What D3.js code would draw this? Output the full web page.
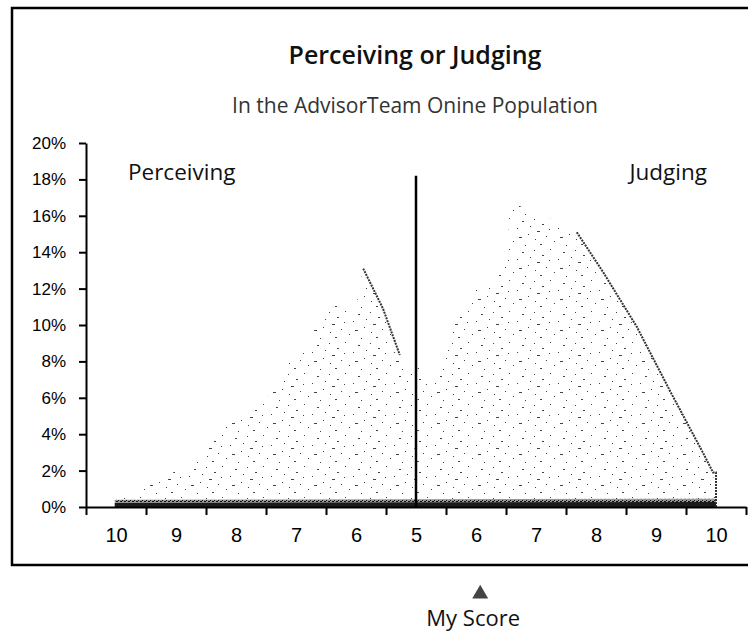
<!DOCTYPE html>
<html>
<head>
<meta charset="utf-8">
<title>Perceiving or Judging</title>
<script src="https://cdn.jsdelivr.net/npm/d3@7"></script>
<style>
  body { margin: 0; background: #fff; }
  svg { display: block; }
</style>
</head>
<body>
<div id="container"></div>
<script>

// x axis runs from Perceiving 10 through 5 to Judging 10 (positions 0..10)
const scoreLabels = ["10", "9", "8", "7", "6", "5", "6", "7", "8", "9", "10"];
const yTicks = [0, 2, 4, 6, 8, 10, 12, 14, 16, 18, 20];

// outline of the Perceiving cloud (position, percent)
const perceivingPos = [-0.02, 0.23, 0.73, 1.4, 1.73, 2.18, 2.52, 2.78, 3.18, 3.4, 3.62, 4.0, 4.12, 4.45, 4.73, 4.95, 5.0];
const perceivingPct = [0.4, 0.6, 1.5, 2.7, 4.4, 5.2, 6.0, 7.6, 8.8, 10.7, 11.2, 11.0, 13.1, 10.9, 8.35, 7.5, 0];

// outline of the Judging cloud
const judgingPos = [5.0, 5.03, 5.3, 5.52, 5.77, 6.02, 6.3, 6.52, 6.57, 6.75, 6.98, 7.3, 7.68, 8.12, 8.68, 9.23, 9.78, 9.95, 10.0];
const judgingPct = [0, 7.7, 6.8, 9.3, 11.0, 12.0, 12.2, 13.6, 17.0, 16.5, 16.0, 15.8, 15.1, 12.9, 9.9, 6.4, 3.0, 1.9, 0];

// darker dotted edges on the right side of each cloud
const perceivingEdgePos = [4.12, 4.45, 4.73];
const perceivingEdgePct = [13.1, 10.9, 8.35];
const judgingEdgePos = [7.68, 8.12, 8.68, 9.23, 9.78, 9.95, 10.0, 10.0];
const judgingEdgePct = [15.1, 12.9, 9.9, 6.4, 3.0, 1.9, 1.9, 0];

// dense strip along the baseline
const bandPos = [-0.02, 10.0];
const bandPct = [0.4, 0.45];
const bandCorePct = [0.22, 0.28];

const dividerPos = 5, dividerTop = 18.2;
const myScorePos = 6.07;

const width = 748,
      height = 633,
      margin = { top: 143, bottom: 126, left: 86, right: 2 };

const svg = d3.select("#container")
  .append("svg")
  .attr("width", width)
  .attr("height", height);

const x = d3.scaleLinear()
  .domain([-0.5, 10.5])
  .range([margin.left, width - margin.right]);

const y = d3.scaleLinear()
  .domain([0, 20])
  .range([height - margin.bottom, margin.top]);

// patterns for the scanned stipple look
const defs = svg.append("defs");
const stipple = defs.append("pattern")
  .attr("id", "stipple")
  .attr("width", 41).attr("height", 31)
  .attr("patternUnits", "userSpaceOnUse");
[[1, 2, 1], [9, 7, 2], [17, 1, 1], [25, 11, 1], [4, 14, 3], [13, 19, 1], [30, 4, 2], [36, 17, 1],
 [21, 24, 1], [7, 27, 2], [33, 28, 1], [27, 20, 3], [16, 12, 1], [38, 9, 1], [2, 22, 1]].forEach(function(d) {
  stipple.append("rect").attr("x", d[0]).attr("y", d[1]).attr("width", d[2]).attr("height", 1).attr("fill", "#444");
});
const dense = defs.append("pattern")
  .attr("id", "dense")
  .attr("width", 4).attr("height", 3)
  .attr("patternUnits", "userSpaceOnUse");
dense.append("rect").attr("width", 4).attr("height", 3).attr("fill", "#999");
dense.append("rect").attr("x", 0).attr("y", 0).attr("width", 2).attr("height", 1).attr("fill", "#111");
dense.append("rect").attr("x", 2).attr("y", 2).attr("width", 1).attr("height", 1).attr("fill", "#111");

// frame
svg.append("rect")
  .attr("x", 12).attr("y", 8)
  .attr("width", 760).attr("height", 557)
  .attr("fill", "none")
  .attr("stroke", "#000")
  .attr("stroke-width", 2.5);

// titles
svg.append("text")
  .attr("x", 415).attr("y", 64)
  .attr("text-anchor", "middle")
  .style("font-family", "'Open Sans', Lato, sans-serif")
  .style("font-weight", "600")
  .style("font-size", "25px")
  .style("fill", "#111")
  .text("Perceiving or Judging");

svg.append("text")
  .attr("x", 415).attr("y", 113)
  .attr("text-anchor", "middle")
  .style("font-family", "'Open Sans', Lato, sans-serif")
  .style("font-size", "21px")
  .style("fill", "#333")
  .text("In the AdvisorTeam Onine Population");

function series(pos, pct) {
  return pos.map(function(p, i) { return { p: p, v: pct[i] }; });
}

const area = d3.area()
  .x(function(d) { return x(d.p); })
  .y0(y(0))
  .y1(function(d) { return y(d.v); });

const line = d3.line()
  .x(function(d) { return x(d.p); })
  .y(function(d) { return y(d.v); });

[series(perceivingPos, perceivingPct), series(judgingPos, judgingPct)].forEach(function(s) {
  svg.append("path")
    .datum(s)
    .attr("d", area)
    .attr("fill", "url(#stipple)");
});

svg.append("path")
  .datum(series(bandPos, bandPct))
  .attr("d", area)
  .attr("fill", "url(#dense)");

svg.append("path")
  .datum(series(bandPos, bandCorePct))
  .attr("d", area)
  .attr("fill", "#1a1a1a");

[series(perceivingEdgePos, perceivingEdgePct), series(judgingEdgePos, judgingEdgePct)].forEach(function(s) {
  svg.append("path")
    .datum(s)
    .attr("d", line)
    .attr("fill", "none")
    .attr("stroke", "#333")
    .attr("stroke-width", 2)
    .attr("stroke-dasharray", "2,1");
});

// divider at 5
svg.append("line")
  .attr("x1", x(dividerPos)).attr("x2", x(dividerPos))
  .attr("y1", y(0)).attr("y2", y(dividerTop))
  .attr("stroke", "#000")
  .attr("stroke-width", 2.5);

// y axis
const yAxis = svg.append("g")
  .attr("transform", `translate(${margin.left}, 0)`)
  .call(d3.axisLeft(y).tickValues(yTicks).tickSize(7).tickSizeOuter(0).tickPadding(13)
    .tickFormat(function(d) { return d + "%"; }));
yAxis.select(".domain").attr("stroke-width", 2);
yAxis.selectAll(".tick line").attr("stroke-width", 2);
yAxis.selectAll("text")
  .style("font-family", "'Liberation Sans', Arial, sans-serif")
  .style("font-size", "17px")
  .style("fill", "#000");

// x axis: ticks on the bin boundaries, labels on the bin centres
const xAxis = svg.append("g")
  .attr("transform", `translate(0, ${y(0)})`)
  .call(d3.axisBottom(x).tickValues(d3.range(-0.5, 11, 1)).tickSize(8).tickSizeOuter(0).tickFormat(""));
xAxis.select(".domain").attr("stroke-width", 2);
xAxis.selectAll(".tick line").attr("stroke-width", 2);

const xLabels = svg.append("g")
  .attr("transform", `translate(0, ${y(0)})`)
  .call(d3.axisBottom(x).tickValues(d3.range(0, 11)).tickSize(0).tickPadding(21)
    .tickFormat(function(d) { return scoreLabels[d]; }));
xLabels.select(".domain").remove();
xLabels.selectAll("text")
  .style("font-family", "'Liberation Sans', Arial, sans-serif")
  .style("font-size", "20px")
  .style("fill", "#000");

// side labels
svg.append("text")
  .attr("x", 128).attr("y", 180)
  .style("font-family", "'Open Sans', Lato, sans-serif")
  .style("font-size", "22.5px")
  .style("fill", "#111")
  .text("Perceiving");

svg.append("text")
  .attr("x", 707).attr("y", 180)
  .attr("text-anchor", "end")
  .style("font-family", "'Open Sans', Lato, sans-serif")
  .style("font-size", "22.5px")
  .style("fill", "#111")
  .text("Judging");

// my score marker
svg.append("path")
  .attr("d", d3.symbol(d3.symbolTriangle).size(110)())
  .attr("transform", `translate(${x(myScorePos)}, 594)`)
  .attr("fill", "#444");

svg.append("text")
  .attr("x", x(myScorePos) - 7).attr("y", 626)
  .attr("text-anchor", "middle")
  .style("font-family", "'Open Sans', Lato, sans-serif")
  .style("font-size", "22px")
  .style("fill", "#111")
  .text("My Score");

</script>
</body>
</html>
